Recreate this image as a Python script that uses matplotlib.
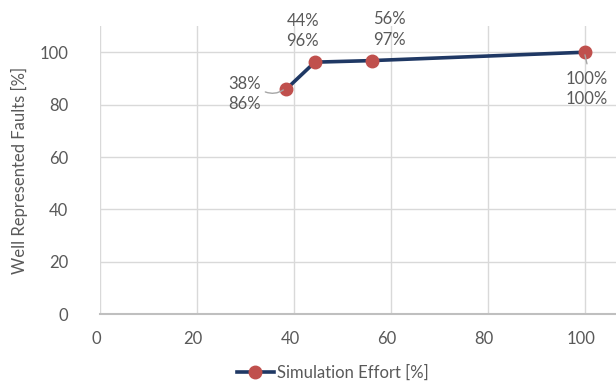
import matplotlib.pyplot as plt
import matplotlib.transforms as mtransforms

effort = [38.4, 44.3, 56.0, 100.0]
faults = [85.9, 96.2, 96.8, 100.0]
x_ticks = [0, 20, 40, 60, 80, 100]
y_ticks = [0, 20, 40, 60, 80, 100]

# label offsets in pixels from each point, with alignment
label_pos = [(-25, -5, 'right'), (-12, 31, 'center'), (18, 31, 'center'), (2, -37, 'center')]

plt.rcParams['font.family'] = ['Lato', 'DejaVu Sans']
txt = '#595959'

fig = plt.figure(figsize=(6.16, 3.86), dpi=100)
ax = fig.add_axes([100 / 616, 1 - 314.3 / 386, 516 / 616, (314.3 - 26) / 386])

ax.plot(effort, faults, color='#1F3864', lw=2.6, marker='o', ms=9,
        mfc='#C0504D', mec='#C0504D', label='Simulation Effort [%]', zorder=3, clip_on=False)

for i in range(len(effort)):
    dx, dy, ha = label_pos[i]
    s = f"{effort[i]:.0f}%\n{faults[i]:.0f}%"
    ax.annotate(s, (effort[i], faults[i]), xytext=(dx, dy), textcoords='offset pixels',
                ha=ha, va='center', fontsize=12, color=txt, linespacing=1.35)

# leader lines for the labels that sit away from their points
ax.annotate('', (effort[0] - 0.6, faults[0] - 0.3), xytext=(-18, -2), textcoords='offset pixels',
            arrowprops=dict(arrowstyle='-', color='#A6A6A6', lw=1,
                            connectionstyle='arc3,rad=0.25', shrinkA=0, shrinkB=0))
ax.annotate('', (effort[3], faults[3] - 1), xytext=(2, -9), textcoords='offset pixels',
            arrowprops=dict(arrowstyle='-', color='#A6A6A6', lw=1, shrinkA=0, shrinkB=0))

ax.set_xlim(0, 106.4)
ax.set_ylim(0, 110)
ax.set_xticks(x_ticks)
ax.set_yticks(y_ticks)
ax.grid(True, color='#D9D9D9', lw=1)
ax.set_axisbelow(True)
for s in ['top', 'right', 'left']:
    ax.spines[s].set_visible(False)
ax.spines['bottom'].set_color('#BFBFBF')
ax.spines['bottom'].set_linewidth(1.5)
ax.tick_params(length=0, labelsize=12, labelcolor=txt)
ax.tick_params(axis='y', pad=23)
ax.tick_params(axis='x', pad=12)
ax.set_ylabel('Well Represented Faults [%]', fontsize=12, color=txt, labelpad=8)

# x labels sit a little left of their gridlines
shift = mtransforms.ScaledTranslation(-4 / 100, 0, fig.dpi_scale_trans)
for lbl in ax.get_xticklabels():
    lbl.set_transform(lbl.get_transform() + shift)

fig.legend(loc='center', bbox_to_anchor=(333 / 616, 1 - 373 / 386), frameon=False,
           fontsize=12, labelcolor=txt, handlelength=2.2, handletextpad=0.2)

fig.savefig('out.png', dpi=100)
